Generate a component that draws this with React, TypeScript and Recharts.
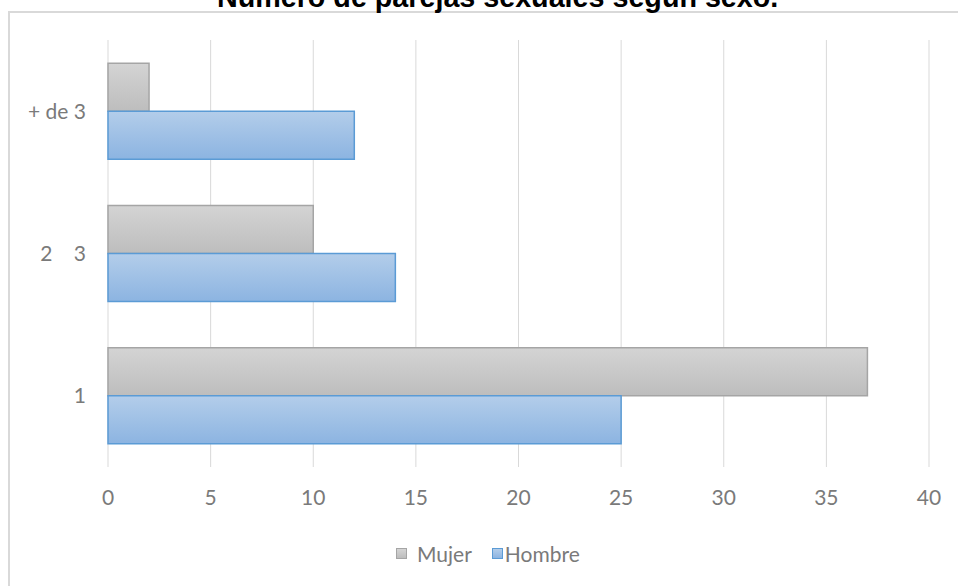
import React from "react";
import { BarChart, Bar, XAxis, YAxis, CartesianGrid } from "recharts";

const categories = ["+ de 3", "2\u00a0\u00a0\u00a0\u00a03", "1"];
const mujer = [2, 10, 37];
const hombre = [12, 14, 25];
const xTicks = [0, 5, 10, 15, 20, 25, 30, 35, 40];
const title = "Número de parejas sexuales según sexo.";

const data = categories.map((c, i) => ({ cat: c, Mujer: mujer[i], Hombre: hombre[i] }));

const font = "Lato, 'Open Sans', sans-serif";
const labelColor = "#7a7a7a";

export default function App() {
  return (
    <div style={{ position: "absolute", left: 0, top: 0, width: 958, height: 586, overflow: "hidden", background: "#fff" }}>
      <svg width={0} height={0} style={{ position: "absolute" }}>
        <defs>
          <linearGradient id="gMujer" x1="0" y1="0" x2="0" y2="1">
            <stop offset="0%" stopColor="#d4d4d4" />
            <stop offset="100%" stopColor="#bdbdbd" />
          </linearGradient>
          <linearGradient id="gHombre" x1="0" y1="0" x2="0" y2="1">
            <stop offset="0%" stopColor="#b3cdea" />
            <stop offset="100%" stopColor="#8cb4e1" />
          </linearGradient>
        </defs>
      </svg>
      <div
        style={{
          position: "absolute",
          left: 8,
          top: 11,
          width: 1000,
          height: 1000,
          borderLeft: "2px solid #d9d9d9",
          borderTop: "2px solid #d9d9d9",
        }}
      />
      <div
        style={{
          position: "absolute",
          left: 217,
          top: -17,
          fontFamily: "'Liberation Sans', Arial, sans-serif",
          fontWeight: "bold",
          fontSize: 28.7,
          lineHeight: "28px",
          whiteSpace: "nowrap",
          color: "#000",
        }}
      >
        {title}
      </div>
      <div style={{ position: "absolute", left: 0, top: 0 }}>
        <BarChart
          width={958}
          height={586}
          data={data}
          layout="vertical"
          margin={{ top: 40, right: 29, left: 18, bottom: 89 }}
          barCategoryGap="16.3%"
          barGap={0}
        >
          <CartesianGrid horizontal={false} vertical={true} stroke="#d9d9d9" strokeWidth={1} />
          <XAxis
            type="number"
            domain={[0, 40]}
            ticks={xTicks}
            interval={0}
            axisLine={false}
            tickLine={false}
            tickSize={0}
            tickMargin={23}
            height={30}
            tick={{ fill: labelColor, fontSize: 21, fontFamily: font }}
          />
          <YAxis
            type="category"
            dataKey="cat"
            width={90}
            axisLine={false}
            tickLine={false}
            tickSize={0}
            tickMargin={22}
            tick={{ fill: labelColor, fontSize: 21, fontFamily: font }}
          />
          <Bar dataKey="Mujer" fill="url(#gMujer)" stroke="#a5a5a5" strokeWidth={1.5} isAnimationActive={false} />
          <Bar dataKey="Hombre" fill="url(#gHombre)" stroke="#5b9bd5" strokeWidth={1.5} isAnimationActive={false} />
        </BarChart>
      </div>
      <div
        style={{
          position: "absolute",
          left: 396,
          top: 539,
          height: 28,
          display: "flex",
          alignItems: "center",
          fontFamily: font,
          fontSize: 21,
          color: labelColor,
          whiteSpace: "nowrap",
        }}
      >
        <span style={{ display: "inline-block", width: 9, height: 9, background: "linear-gradient(#d4d4d4,#bdbdbd)", border: "1px solid #a5a5a5" }} />
        <span style={{ marginLeft: 10 }}>Mujer</span>
        <span style={{ display: "inline-block", width: 9, height: 9, marginLeft: 20, background: "linear-gradient(#b3cdea,#8cb4e1)", border: "1px solid #5b9bd5" }} />
        <span style={{ marginLeft: 2 }}>Hombre</span>
      </div>
    </div>
  );
}
